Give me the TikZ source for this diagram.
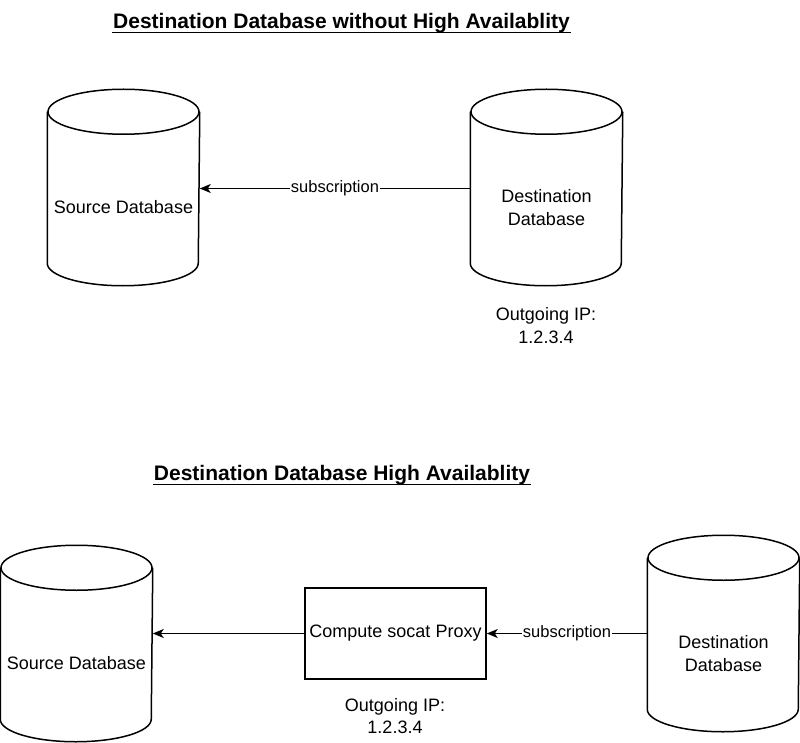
\documentclass[tikz,border=0pt]{standalone}
\usepackage{fontspec}
\setmainfont{Liberation Sans}
\usepackage{tikz}
\usetikzlibrary{arrows.meta,positioning}

\begin{document}
\begin{tikzpicture}[x=1pt, y=-1pt, line width=1.5pt,
  every node/.style={inner sep=0pt},
  db/.style={minimum width=151pt, minimum height=195pt,
    append after command={\pgfextra{
      \draw ([yshift=-22.5pt]\tikzlastnode.north west)
        -- ([yshift=22.5pt]\tikzlastnode.south west)
        arc[start angle=180, end angle=360, x radius=75.5pt, y radius=22.5pt]
        -- ([yshift=-22.5pt]\tikzlastnode.north east);
      \draw ([yshift=-22.5pt]\tikzlastnode.north) ellipse [x radius=75.5pt, y radius=22.5pt];
    }}},
  proxybox/.style={draw, minimum width=181pt, minimum height=91pt},
  txt/.style={font=\fontsize{18}{22.5}\selectfont, align=center},
  ttl/.style={font=\fontsize{21}{25}\selectfont\bfseries, anchor=base},
  edgelbl/.style={font=\fontsize{16.5}{20}\selectfont, fill=white, inner xsep=1pt, inner ysep=2pt},
  arr/.style={-{Stealth[length=11pt, width=9pt, inset=3pt]}}]
  \useasboundingbox (0,0) rectangle (800,743);

  % without high availability
  \node[ttl] (ttl1) at (341.5,28.5) {Destination Database without High Availablity};
  \draw ([yshift=-4pt]ttl1.base west) -- ([yshift=-4pt]ttl1.base east);

  \node[db] (src1)  at (123.5,187.5) {};
  \node[db] (dest1) at (546.5,187.5) {};
  \node[txt] (src1txt)  at ([yshift=-20pt]src1.center) {Source Database};
  \node[txt] (dest1txt) at ([yshift=-20pt]dest1.center) {Destination\\Database};
  \node[txt] (ip1) at (546,325.5) {Outgoing IP:\\1.2.3.4};

  \draw[arr] ([yshift=-1pt]dest1.west) -- node[edgelbl] {subscription} ([yshift=-1pt]src1.east);

  % with high availability
  \node[ttl] (ttl2) at (342,480.5) {Destination Database High Availablity};
  \draw ([yshift=-4pt]ttl2.base west) -- ([yshift=-4pt]ttl2.base east);

  \node[db] (src2)  at (76.5,643.5) {};
  \node[db] (dest2) at (723.5,633.5) {};
  \node[proxybox, txt] (proxy) at (395.5,633.5) {Compute socat Proxy};
  \node[txt] (src2txt)  at ([yshift=-20pt]src2.center) {Source Database};
  \node[txt] (dest2txt) at ([yshift=-20pt]dest2.center) {Destination\\Database};
  \node[txt] (ip2) at (395,716) {Outgoing IP:\\1.2.3.4};

  \draw[arr] (proxy.west) -- (proxy.west -| src2.east);
  \draw[arr] (dest2.west) -- node[edgelbl] {subscription} (proxy.east);
\end{tikzpicture}
\end{document}
